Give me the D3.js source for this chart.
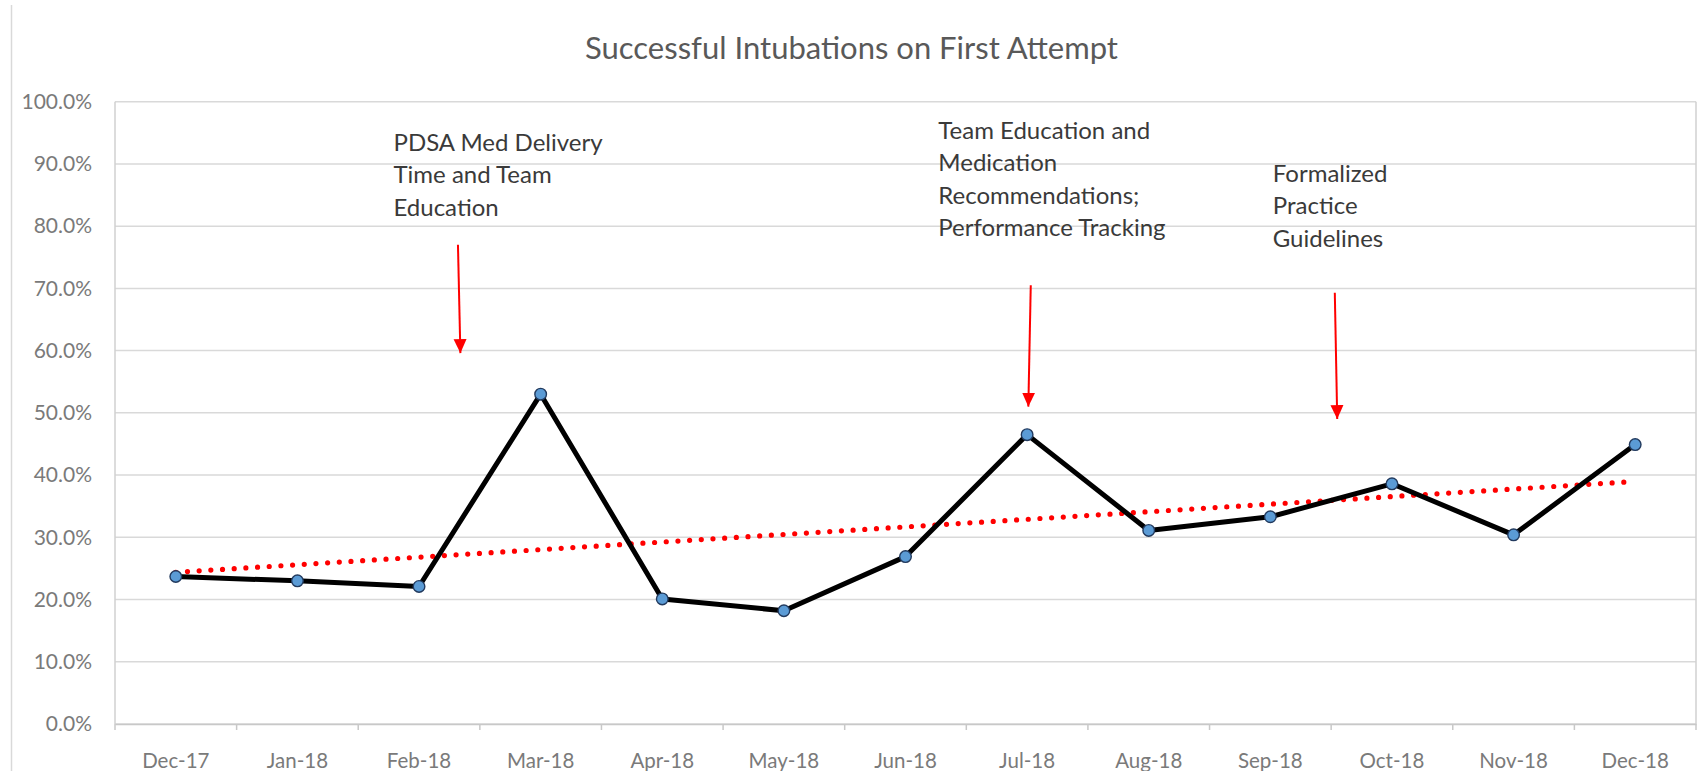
<!DOCTYPE html>
<html lang="en">
<head>
<meta charset="UTF-8">
<title>Successful Intubations on First Attempt</title>
<script src="https://d3js.org/d3.v7.min.js"></script>
<style>
    body { margin: 0; background: #fff; }
    svg { display: block; font-family: Lato, "Open Sans", sans-serif; }
</style>
</head>
<body>
<svg id="chart"></svg>
<script>
    // data
    const months = ["Dec-17", "Jan-18", "Feb-18", "Mar-18", "Apr-18", "May-18", "Jun-18",
                    "Jul-18", "Aug-18", "Sep-18", "Oct-18", "Nov-18", "Dec-18"];
    const firstAttempt = [0.237, 0.230, 0.221, 0.530, 0.201, 0.182, 0.269,
                          0.465, 0.311, 0.333, 0.386, 0.304, 0.449];
    const yTicks = [0, 0.1, 0.2, 0.3, 0.4, 0.5, 0.6, 0.7, 0.8, 0.9, 1.0];
    const title = "Successful Intubations on First Attempt";
    const noteTexts = [
        ["PDSA Med Delivery", "Time and Team", "Education"],
        ["Team Education and", "Medication", "Recommendations;", "Performance Tracking"],
        ["Formalized", "Practice", "Guidelines"]
    ];

    const width = 1703, height = 771;
    const margin = {top: 101.7, right: 7, bottom: 47, left: 115};

    const svg = d3.select("#chart").attr("width", width).attr("height", height);

    const x = d3.scaleBand().domain(months).range([margin.left, width - margin.right]);
    const y = d3.scaleLinear().domain([0, 1]).range([height - margin.bottom, margin.top]);
    const cx = d => x(d) + x.bandwidth() / 2;
    // position between categories (index units), used for the annotations
    const xi = d3.scaleLinear().domain([0, months.length - 1])
        .range([cx(months[0]), cx(months[months.length - 1])]);

    // outer chart frame (only the left edge is visible in the picture)
    svg.append("line")
        .attr("x1", 11.5).attr("x2", 11.5).attr("y1", 5).attr("y2", height)
        .attr("stroke", "#d9d9d9").attr("stroke-width", 1.5);

    svg.append("text")
        .attr("x", width / 2).attr("y", 59)
        .attr("text-anchor", "middle")
        .attr("font-size", "31px")
        .attr("fill", "#595959")
        .text(title);

    // gridlines
    svg.append("g")
        .selectAll("line")
        .data(yTicks)
        .join("line")
        .attr("x1", margin.left).attr("x2", width - margin.right)
        .attr("y1", d => y(d)).attr("y2", d => y(d))
        .attr("stroke", "#d9d9d9").attr("stroke-width", 1.5);

    // plot side borders
    svg.append("line")
        .attr("x1", margin.left).attr("x2", margin.left)
        .attr("y1", y(1)).attr("y2", y(0))
        .attr("stroke", "#d0d0d0").attr("stroke-width", 1.5);
    svg.append("line")
        .attr("x1", width - margin.right).attr("x2", width - margin.right)
        .attr("y1", y(1)).attr("y2", y(0))
        .attr("stroke", "#d0d0d0").attr("stroke-width", 1.5);

    // y labels
    const yAxis = svg.append("g")
        .attr("transform", `translate(${margin.left},0)`)
        .call(d3.axisLeft(y).tickValues(yTicks).tickFormat(d3.format(".1%")).tickSize(0).tickPadding(23));
    yAxis.select(".domain").remove();
    yAxis.selectAll("text")
        .attr("font-family", "Lato, sans-serif")
        .attr("font-size", "21px")
        .attr("fill", "#7a7a7a");

    // x axis: line with ticks between categories
    const xAxis = svg.append("g")
        .attr("transform", `translate(0,${y(0)})`)
        .call(d3.axisBottom(x).tickSize(0).tickPadding(29));
    xAxis.select(".domain").attr("stroke", "#c8c8c8").attr("stroke-width", 1.5);
    xAxis.selectAll("text")
        .attr("font-family", "Lato, sans-serif")
        .attr("font-size", "20.5px")
        .attr("fill", "#7a7a7a");
    xAxis.append("g")
        .selectAll("line")
        .data(d3.range(months.length + 1))
        .join("line")
        .attr("x1", i => margin.left + i * x.step())
        .attr("x2", i => margin.left + i * x.step())
        .attr("y1", 0).attr("y2", 6)
        .attr("stroke", "#c8c8c8").attr("stroke-width", 1.5);

    // linear trendline (least squares)
    const idx = firstAttempt.map((d, i) => i);
    const mx = d3.mean(idx), my = d3.mean(firstAttempt);
    const slope = d3.sum(idx, i => (i - mx) * (firstAttempt[i] - my)) / d3.sum(idx, i => (i - mx) ** 2);
    const icpt = my - slope * mx;
    const trendEnds = [0, months.length - 1];
    svg.append("path")
        .datum(trendEnds)
        .attr("d", d3.line().x(i => xi(i)).y(i => y(icpt + slope * i)))
        .attr("fill", "none")
        .attr("stroke", "#ff0000")
        .attr("stroke-width", 5.2)
        .attr("stroke-linecap", "round")
        .attr("stroke-dasharray", "0 11.7");

    // main series
    const line = d3.line().x((d, i) => cx(months[i])).y(d => y(d));
    svg.append("path")
        .datum(firstAttempt)
        .attr("d", line)
        .attr("fill", "none")
        .attr("stroke", "#000")
        .attr("stroke-width", 5)
        .attr("stroke-linejoin", "round");

    svg.append("g")
        .selectAll("circle")
        .data(firstAttempt)
        .join("circle")
        .attr("cx", (d, i) => cx(months[i]))
        .attr("cy", d => y(d))
        .attr("r", 5.8)
        .attr("fill", "#5b9bd5")
        .attr("stroke", "#223a5e")
        .attr("stroke-width", 1.4);

    // annotations: text block anchor and arrow (index units / values)
    const noteLayout = [
        {tx: 1.79, ty: 0.921, ax0: 2.32, ax1: 2.34, ay0: 0.770, ay1: 0.596},
        {tx: 6.27, ty: 0.940, ax0: 7.03, ax1: 7.01, ay0: 0.705, ay1: 0.510},
        {tx: 9.02, ty: 0.871, ax0: 9.53, ax1: 9.55, ay0: 0.693, ay1: 0.490}
    ];

    svg.append("defs").append("marker")
        .attr("id", "head")
        .attr("markerUnits", "userSpaceOnUse")
        .attr("viewBox", "0 0 14 14")
        .attr("markerWidth", 14).attr("markerHeight", 14)
        .attr("refX", 14).attr("refY", 7)
        .attr("orient", "auto")
        .append("path")
        .attr("d", "M0,0.5 L14,7 L0,13.5 Z")
        .attr("fill", "#ff0000");

    const notes = svg.append("g");
    noteLayout.forEach((n, k) => {
        const t = notes.append("text")
            .attr("x", xi(n.tx)).attr("y", y(n.ty))
            .attr("font-size", "24px")
            .attr("fill", "#3a3a3a");
        t.selectAll("tspan")
            .data(noteTexts[k])
            .join("tspan")
            .attr("x", xi(n.tx))
            .attr("dy", (d, i) => i === 0 ? 0 : 32.4)
            .text(d => d);

        notes.append("line")
            .attr("x1", xi(n.ax0)).attr("y1", y(n.ay0))
            .attr("x2", xi(n.ax1)).attr("y2", y(n.ay1))
            .attr("stroke", "#ff0000")
            .attr("stroke-width", 2)
            .attr("marker-end", "url(#head)");
    });
</script>
</body>
</html>
